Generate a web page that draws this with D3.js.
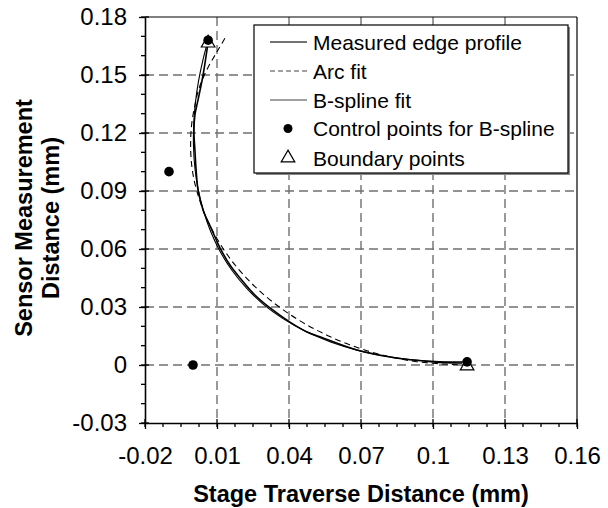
<!DOCTYPE html>
<html><head><meta charset="utf-8">
<script src="https://cdn.jsdelivr.net/npm/d3@7"></script>
<style>
html,body{margin:0;padding:0;background:#fff;}
svg text{font-family:"Liberation Sans",Arial,Helvetica,sans-serif;fill:#000;}
</style></head>
<body>
<svg id="chart" width="608" height="508"></svg>
<script>
// ---- data ----
const xTickValues = [-0.02, 0.01, 0.04, 0.07, 0.1, 0.13, 0.16];
const xTickLabels = ["-0.02", "0.01", "0.04", "0.07", "0.1", "0.13", "0.16"];
const yTickValues = [-0.03, 0, 0.03, 0.06, 0.09, 0.12, 0.15, 0.18];
const yTickLabels = ["-0.03", "0", "0.03", "0.06", "0.09", "0.12", "0.15", "0.18"];

const measuredX = [0.0063,0.0042,0.0021,0.0008,0.0004,0.0008,0.0013,0.0021,0.0042,0.0079,0.0113,0.0154,0.0196,0.0258,0.0321,0.0404,0.0475,0.0542,0.0683,0.0821,0.1000,0.1121];
const measuredY = [0.1671,0.1500,0.1371,0.1293,0.1205,0.1112,0.1009,0.0905,0.0802,0.0698,0.0605,0.0517,0.0450,0.0362,0.0295,0.0222,0.0171,0.0140,0.0078,0.0041,0.0016,0.0010];

const arcX = [0.0133,0.0100,0.0059,0.0025,0.0007,-0.0006,-0.0010,-0.0006,0.0007,0.0030,0.0059,0.0143,0.0257,0.0397,0.0560,0.0740,0.0932,0.1130];
const arcY = [0.1690,0.1620,0.1530,0.1430,0.1338,0.1240,0.1140,0.1040,0.0942,0.0845,0.0750,0.0570,0.0407,0.0267,0.0153,0.0068,0.0017,0.0000];

const splineX = [0.0063,0.0041,0.0023,0.0010,0.0003,0.0002,0.0008,0.0022,0.0044,0.0074,0.0113,0.0162,0.0222,0.0292,0.0375,0.0469,0.0576,0.0696,0.0830,0.0978,0.1142];
const splineY = [0.1680,0.1576,0.1468,0.1357,0.1244,0.1131,0.1018,0.0906,0.0796,0.0689,0.0587,0.0490,0.0399,0.0315,0.0240,0.0174,0.0118,0.0073,0.0040,0.0021,0.0016];

const controlX = [0.0063, -0.0100, 0.0000, 0.1142];
const controlY = [0.1680, 0.1000, 0.0000, 0.0016];

const boundaryX = [0.0063, 0.1142];
const boundaryY = [0.1665, -0.0005];

const legendLabels = ["Measured edge profile", "Arc fit", "B-spline fit", "Control points for B-spline", "Boundary points"];
const xTitle = "Stage Traverse Distance (mm)";
const yTitleLines = ["Sensor Measurement", "Distance (mm)"];

// ---- layout ----
const svg = d3.select("#chart");
const x = d3.scaleLinear().domain([-0.02, 0.16]).range([145, 577]);
const y = d3.scaleLinear().domain([-0.03, 0.18]).range([423, 17]);
const zip = (a, b) => a.map((v, i) => [v, b[i]]);

// grid
const grid = svg.append("g").attr("stroke", "#707070").attr("stroke-width", 1.4).attr("stroke-dasharray", "9,5");
xTickValues.slice(1, -1).forEach(v => grid.append("line")
  .attr("x1", x(v)).attr("x2", x(v)).attr("y1", y.range()[1]).attr("y2", y.range()[0]));
yTickValues.slice(1, -1).forEach(v => grid.append("line")
  .attr("y1", y(v)).attr("y2", y(v)).attr("x1", x.range()[0]).attr("x2", x.range()[1]));

// frame top/right
svg.append("line").attr("x1", x.range()[0]).attr("x2", x.range()[1]).attr("y1", y.range()[1]).attr("y2", y.range()[1]).attr("stroke", "#000").attr("stroke-width", 1.2);
svg.append("line").attr("x1", x.range()[1]).attr("x2", x.range()[1]).attr("y1", y.range()[1]).attr("y2", y.range()[0]).attr("stroke", "#000").attr("stroke-width", 1.2);

// minor ticks
const xMinor = d3.range(-0.02, 0.1601, 0.0075);
const yMinor = d3.range(-0.03, 0.1801, 0.01);
const minor = svg.append("g").attr("stroke", "#000").attr("stroke-width", 1.3);
xMinor.forEach(v => minor.append("line").attr("x1", x(v)).attr("x2", x(v)).attr("y1", y.range()[0]).attr("y2", y.range()[0] + 4));
yMinor.forEach(v => minor.append("line").attr("y1", y(v)).attr("y2", y(v)).attr("x1", x.range()[0]).attr("x2", x.range()[0] - 4));
// inward part of major ticks
xTickValues.forEach(v => minor.append("line").attr("x1", x(v)).attr("x2", x(v)).attr("y1", y.range()[0]).attr("y2", y.range()[0] - 4));
yTickValues.forEach(v => minor.append("line").attr("y1", y(v)).attr("y2", y(v)).attr("x1", x.range()[0]).attr("x2", x.range()[0] + 4));

// axes
const xAxis = svg.append("g").attr("transform", `translate(0,${y.range()[0]})`)
  .call(d3.axisBottom(x).tickValues(xTickValues).tickFormat((d, i) => xTickLabels[i]).tickSizeInner(6).tickSizeOuter(0).tickPadding(18));
const yAxis = svg.append("g").attr("transform", `translate(${x.range()[0]},0)`)
  .call(d3.axisLeft(y).tickValues(yTickValues).tickFormat((d, i) => yTickLabels[i]).tickSizeInner(6).tickSizeOuter(0).tickPadding(12));
[xAxis, yAxis].forEach(a => {
  a.select(".domain").attr("stroke", "#000").attr("stroke-width", 1.6);
  a.selectAll(".tick line").attr("stroke", "#000").attr("stroke-width", 1.3);
  a.selectAll(".tick text").attr("font-size", 24).attr("font-family", '"Liberation Sans",Arial,sans-serif').attr("fill", "#000");
});
xAxis.selectAll(".tick text").attr("dy", "0.71em");

// titles
svg.append("text").attr("x", 361).attr("y", 502).attr("text-anchor", "middle")
  .attr("font-size", 23.5).attr("font-weight", "bold").text(xTitle);
const yt = svg.append("text").attr("transform", "translate(0,218) rotate(-90)")
  .attr("text-anchor", "middle").attr("font-size", 23.5).attr("font-weight", "bold");
yt.append("tspan").attr("x", 0).attr("y", 32).text(yTitleLines[0]);
yt.append("tspan").attr("x", 0).attr("y", 59).text(yTitleLines[1]);

// curves
const line = d3.line().x(d => x(d[0])).y(d => y(d[1])).curve(d3.curveCatmullRom);
svg.append("path").datum(zip(arcX, arcY)).attr("d", line).attr("fill", "none")
  .attr("stroke", "#000").attr("stroke-width", 1.1).attr("stroke-dasharray", "6,4");
svg.append("path").datum(zip(splineX, splineY)).attr("d", line).attr("fill", "none")
  .attr("stroke", "#000").attr("stroke-width", 1.1);
svg.append("path").datum(zip(measuredX, measuredY)).attr("d", line).attr("fill", "none")
  .attr("stroke", "#000").attr("stroke-width", 1.6);

// markers
const tri = d3.symbol().type(d3.symbolTriangle).size(80);
svg.append("g").selectAll("path").data(zip(boundaryX, boundaryY)).join("path")
  .attr("d", tri).attr("transform", d => `translate(${x(d[0])},${y(d[1])})`)
  .attr("fill", "#fff").attr("stroke", "#000").attr("stroke-width", 1.2);
svg.append("g").selectAll("circle").data(zip(controlX, controlY)).join("circle")
  .attr("cx", d => x(d[0])).attr("cy", d => y(d[1])).attr("r", 4.8).attr("fill", "#000");

// legend
const lg = svg.append("g");
lg.append("rect").attr("x", 256).attr("y", 27).attr("width", 314).attr("height", 148).attr("fill", "#888");
lg.append("rect").attr("x", 254).attr("y", 25).attr("width", 314).attr("height", 148)
  .attr("fill", "#fff").attr("stroke", "#000").attr("stroke-width", 1.2);
const rowY = [42, 71, 100, 128.5, 158];
legendLabels.forEach((t, i) => {
  lg.append("text").attr("x", 313).attr("y", rowY[i] + 7.5).attr("font-size", 21).text(t);
});
lg.append("line").attr("x1", 270).attr("x2", 307).attr("y1", rowY[0]).attr("y2", rowY[0]).attr("stroke", "#444").attr("stroke-width", 1.4);
lg.append("line").attr("x1", 270).attr("x2", 307).attr("y1", rowY[1]).attr("y2", rowY[1]).attr("stroke", "#444").attr("stroke-width", 1.2).attr("stroke-dasharray", "5,3");
lg.append("line").attr("x1", 270).attr("x2", 307).attr("y1", rowY[2]).attr("y2", rowY[2]).attr("stroke", "#444").attr("stroke-width", 1.2);
lg.append("circle").attr("cx", 288).attr("cy", rowY[3]).attr("r", 4.5).attr("fill", "#000");
lg.append("path").attr("d", tri).attr("transform", `translate(288,${rowY[4]})`).attr("fill", "#fff").attr("stroke", "#000").attr("stroke-width", 1.2);
</script>
</body></html>
